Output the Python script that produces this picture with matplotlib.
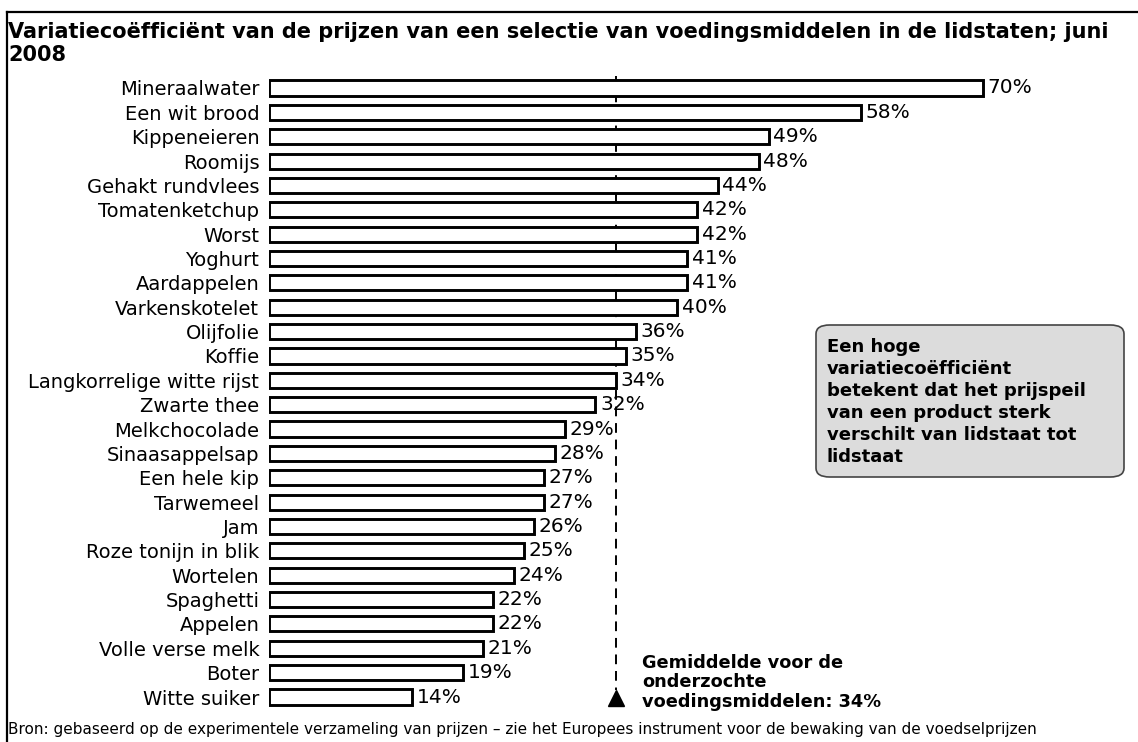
import matplotlib.pyplot as plt
from matplotlib.lines import Line2D
from matplotlib.patches import FancyBboxPatch

plt.rcParams['font.family'] = ['DejaVu Sans']

products = ["Mineraalwater", "Een wit brood", "Kippeneieren", "Roomijs",
            "Gehakt rundvlees", "Tomatenketchup", "Worst", "Yoghurt",
            "Aardappelen", "Varkenskotelet", "Olijfolie", "Koffie",
            "Langkorrelige witte rijst", "Zwarte thee", "Melkchocolade",
            "Sinaasappelsap", "Een hele kip", "Tarwemeel", "Jam",
            "Roze tonijn in blik", "Wortelen", "Spaghetti", "Appelen",
            "Volle verse melk", "Boter", "Witte suiker"]
values = [70, 58, 49, 48, 44, 42, 42, 41, 41, 40, 36, 35, 34, 32, 29, 28,
          27, 27, 26, 25, 24, 22, 22, 21, 19, 14]
average = 34

title = ("Variatiecoëfficiënt van de prijzen van een selectie van "
         "voedingsmiddelen in de lidstaten; juni\n2008")
box_text = ("Een hoge\nvariatiecoëfficiënt\nbetekent dat het prijspeil\n"
            "van een product sterk\nverschilt van lidstaat tot\nlidstaat")
avg_text = "Gemiddelde voor de\nonderzochte\nvoedingsmiddelen: 34%"
source = ("Bron: gebaseerd op de experimentele verzameling van prijzen – zie "
          "het Europees instrument voor de bewaking van de voedselprijzen")

W, H = 1138, 742
fig = plt.figure(figsize=(W / 100, H / 100), dpi=100)
# axes in pixel terms: x from 269 to 1130, rows from 76 to 709
ax = fig.add_axes([269 / W, 1 - 709.2 / H, (1130 - 269) / W, (709.2 - 75.8) / H])

pos = list(range(len(products)))
ax.barh(pos, values, height=0.62, color='white', edgecolor='black',
        linewidth=2.1)
for p, v in zip(pos, values):
    ax.text(v + 0.45, p, f"{v}%", va='center', ha='left', fontsize=14.5)

ax.set_xlim(0, (1130 - 269) / 10.2)
ax.set_ylim(len(products) - 0.5, -0.5)
ax.set_yticks(pos)
ax.set_yticklabels(products, fontsize=14)
ax.tick_params(axis='y', length=0, pad=7)
ax.set_xticks([])
for s in ax.spines.values():
    s.set_visible(False)

# average line with marker
ax.plot([average, average], [-0.5, 24.7], color='black', lw=1.4,
        dashes=(5, 3.5), zorder=0)
ax.plot([average], [25.05], marker='^', color='black', markersize=11,
        clip_on=False)
ax.text(average + 2.55, 24.4, avg_text, fontsize=12.8, fontweight='bold',
        va='center', ha='left', linespacing=1.12)

# explanation box
box = FancyBboxPatch((816 / W, 1 - 477 / H), (1124 - 816) / W,
                     (477 - 325) / H, boxstyle="round,pad=0,rounding_size=0.012",
                     transform=fig.transFigure, facecolor='#dcdcdc',
                     edgecolor='#444444', linewidth=1.2)
fig.patches.append(box)
fig.text(827 / W, 1 - 402 / H, box_text, fontsize=13, fontweight='bold',
         va='center', ha='left', linespacing=1.28)

# title, source and frame
fig.text(8 / W, 1 - 22 / H, title, fontsize=15, fontweight='bold',
         va='top', ha='left', linespacing=1.2)
fig.text(8 / W, 1 - 734 / H, source, fontsize=11, va='baseline', ha='left')
fig.lines.append(Line2D([7 / W, 1], [1 - 12 / H, 1 - 12 / H], color='black',
                        lw=1.6, transform=fig.transFigure))
fig.lines.append(Line2D([7 / W, 7 / W], [0, 1 - 12 / H], color='black',
                        lw=1.6, transform=fig.transFigure))

fig.savefig('out.png', dpi=100, facecolor='white')
